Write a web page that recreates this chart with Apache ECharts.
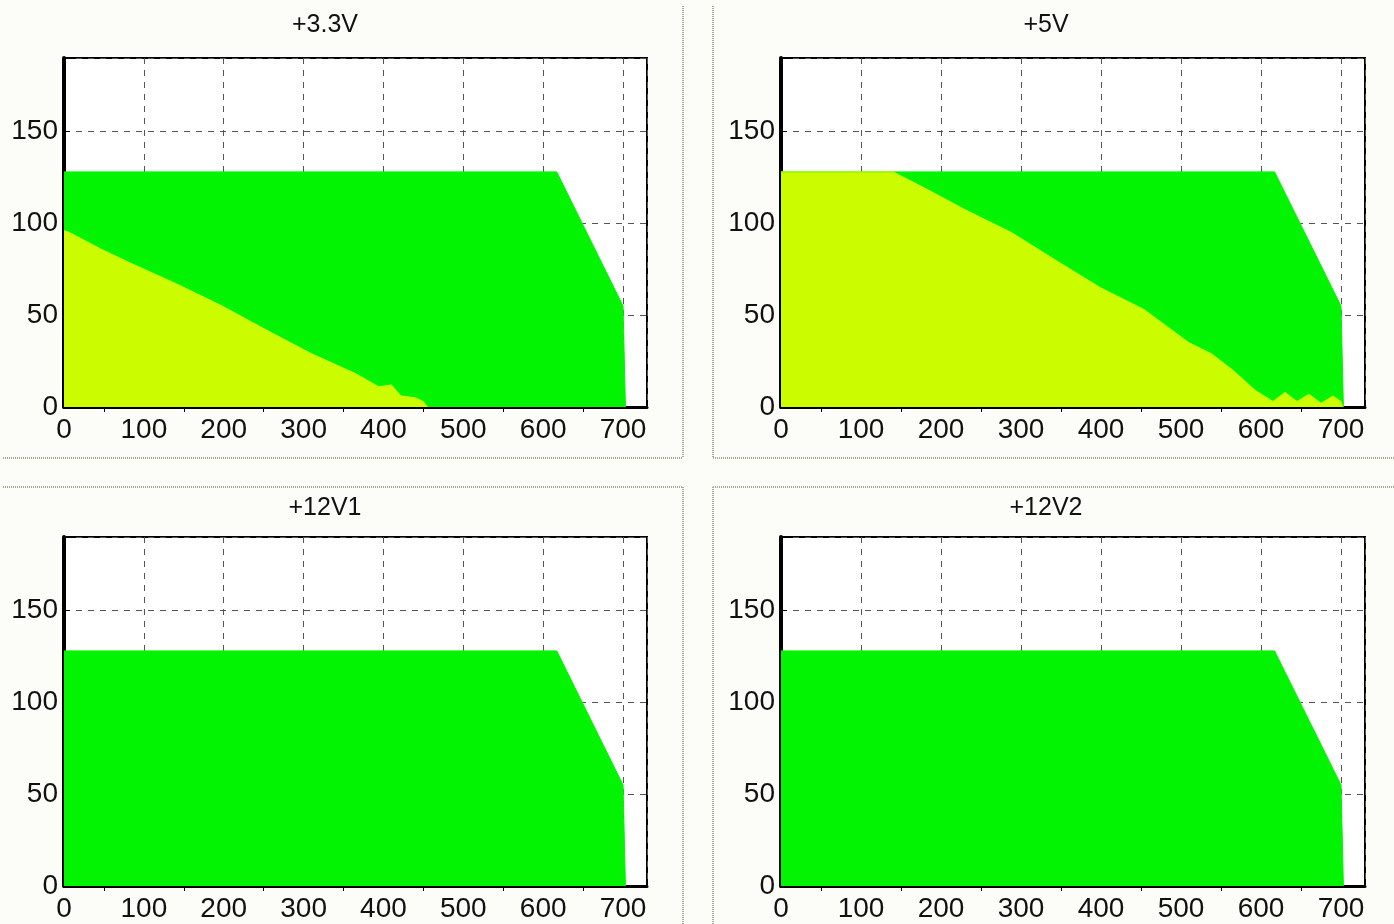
<!DOCTYPE html>
<html>
<head>
<meta charset="utf-8">
<title>Rail load map</title>
<script src="https://cdn.jsdelivr.net/npm/echarts@6/dist/echarts.min.js"></script>
<style>
  html, body { margin: 0; padding: 0; background: #fcfcf8; }
  #main { width: 1394px; height: 924px; }
</style>
</head>
<body>
<div id="main"></div>
<script>
// one panel per rail
const titles = ['+3.3V', '+5V', '+12V1', '+12V2']
const xTicks = [0, 100, 200, 300, 400, 500, 600, 700]
const yTicks = [0, 50, 100, 150]

// green envelope, same on every rail
const envX = [0, 617, 700, 703]
const envY = [128, 128, 55, 0]

// yellow part on +3.3V
const y33X = [0, 7, 46, 85, 141, 198, 253, 310, 366, 394, 410, 422, 440, 450, 455]
const y33Y = [96, 95, 86, 78, 67, 55, 42, 29, 18, 11, 12, 6, 5, 3, 0]

// yellow part on +5V
const y5X = [0, 140, 176, 232, 288, 343, 399, 454, 482, 510, 538, 565, 593, 604, 615, 630, 645, 660, 675, 690, 700, 702]
const y5Y = [128, 128, 120, 107, 95, 80, 65, 53, 44, 35, 29, 20, 9, 6, 3, 8, 3, 7, 2, 6, 3, 0]

// yellow per panel (none on the 12V rails)
const yellowX = [y33X, y5X, [], []]
const yellowY = [y33Y, y5Y, [], []]

const GREEN = '#02f402'
const YELLOW = '#ccfc00'

const layout = [
  { left: 64, top: 58, width: 583, height: 349, tx: 320, ty: 8 },
  { left: 781, top: 58, width: 584, height: 349, tx: 1041, ty: 8 },
  { left: 64, top: 537, width: 583, height: 349, tx: 320, ty: 491 },
  { left: 781, top: 537, width: 584, height: 349, tx: 1041, ty: 491 }
]

const font = 'Liberation Sans, Arial, sans-serif'

function areaSeries(idx, xs, ys, color) {
  return {
    type: 'line',
    xAxisIndex: idx,
    yAxisIndex: idx,
    data: xs.map((x, i) => [x, ys[i]]),
    symbol: 'none',
    silent: true,
    lineStyle: { color: color, width: 1 },
    areaStyle: { color: color, opacity: 1 }
  }
}

const grids = [], xAxes = [], yAxes = [], series = [], titleList = []
layout.forEach((g, i) => {
  grids.push({
    left: g.left, top: g.top, width: g.width, height: g.height,
    show: true, backgroundColor: '#fff', borderColor: '#000', borderWidth: 2
  })
  titleList.push({
    text: titles[i],
    left: g.tx,
    top: g.ty,
    textAlign: 'center',
    textStyle: { color: '#111', fontSize: 25, fontWeight: 'normal', fontFamily: font }
  })
  xAxes.push({
    gridIndex: i, type: 'value', min: 0, max: 730, interval: 100,
    axisLine: { onZero: false, lineStyle: { color: '#000', width: 3 } },
    axisTick: { show: false },
    minorTick: { show: true, splitNumber: 2, length: 5, lineStyle: { color: '#000' } },
    axisLabel: {
      color: '#111', fontSize: 28, fontFamily: font, margin: 9,
      formatter: v => (xTicks.includes(v) ? String(v) : '')
    },
    splitLine: { show: true, lineStyle: { color: '#555', type: [6, 6] } }
  })
  yAxes.push({
    gridIndex: i, type: 'value', min: 0, max: 190, interval: 50,
    axisLine: { show: true, onZero: false, lineStyle: { color: '#000', width: 4 } },
    axisTick: { show: true, inside: true, length: 6, lineStyle: { color: '#000' } },
    axisLabel: {
      color: '#111', fontSize: 28, fontFamily: font, margin: 6,
      formatter: v => (yTicks.includes(v) ? String(v) : '')
    },
    splitLine: { show: true, lineStyle: { color: '#555', type: [6, 6] } }
  })
  series.push(areaSeries(i, envX, envY, GREEN))
  if (yellowX[i].length) series.push(areaSeries(i, yellowX[i], yellowY[i], YELLOW))
})

// dotted panel borders
const sep = { stroke: '#a8a890', lineWidth: 2, lineDash: [1, 1] }
const borders = [
  [683, 6, 683, 458], [3, 458, 683, 458],
  [713, 6, 713, 458], [713, 458, 1394, 458],
  [3, 487, 683, 487], [683, 487, 683, 924],
  [713, 487, 1394, 487], [713, 487, 713, 924]
].map(b => ({
  type: 'line', silent: true, z: -1,
  shape: { x1: b[0], y1: b[1], x2: b[2], y2: b[3] },
  style: sep
}))

const chart = echarts.init(document.getElementById('main'))
chart.setOption({
  animation: false,
  backgroundColor: '#fcfcf8',
  title: titleList,
  grid: grids,
  xAxis: xAxes,
  yAxis: yAxes,
  series: series,
  graphic: borders
})
</script>
</body>
</html>
